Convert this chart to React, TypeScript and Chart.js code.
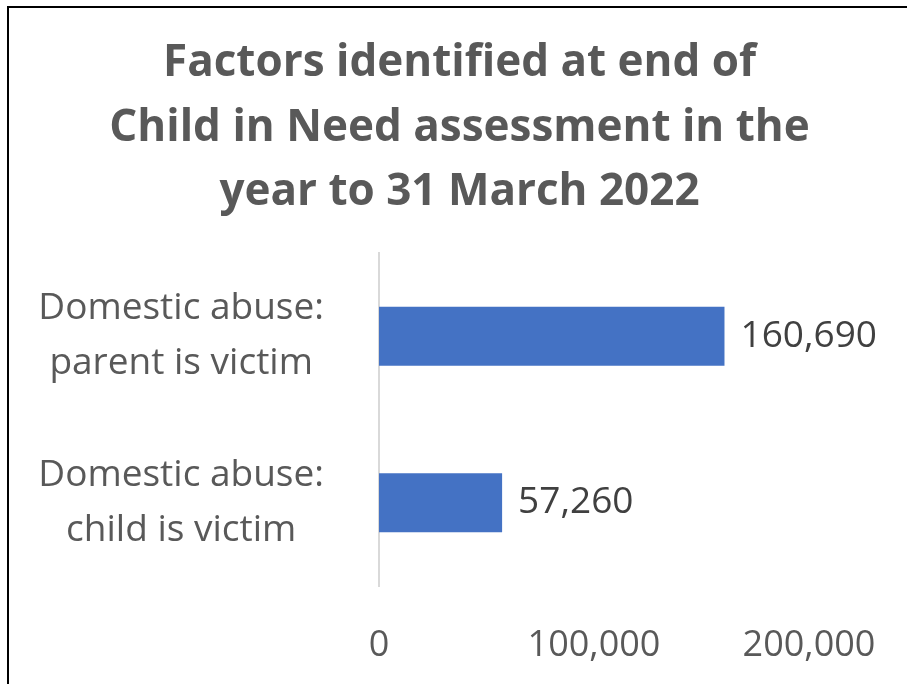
import React, { useEffect, useRef } from "react";
import { Chart, registerables } from "chart.js";

Chart.register(...registerables);

const titleLines = ["Factors identified at end of", "Child in Need assessment in the", "year to 31 March 2022"];
const categories: string[][] = [
  ["Domestic abuse:", "parent is victim"],
  ["Domestic abuse:", "child is victim"],
];
const values = [160690, 57260];
const xTicks = [0, 100000, 200000];

const FONT = "'Open Sans', sans-serif";

const valueLabels = {
  id: "valueLabels",
  afterDatasetsDraw(chart: any) {
    const ctx = chart.ctx;
    const meta = chart.getDatasetMeta(0);
    ctx.save();
    ctx.font = `37px ${FONT}`;
    ctx.fillStyle = "#404040";
    ctx.textAlign = "left";
    ctx.textBaseline = "middle";
    meta.data.forEach((bar: any, i: number) => {
      ctx.fillText(values[i].toLocaleString("en-GB"), bar.x + 16, bar.y);
    });
    ctx.restore();
  },
};

const titleCentre = {
  id: "titleCentre",
  afterLayout(chart: any) {
    const tb = chart.titleBlock;
    if (tb) {
      tb.left = 12;
      tb.right = chart.width;
      tb.width = tb.right - tb.left;
    }
  },
};

export default function App() {
  const ref = useRef<HTMLCanvasElement>(null);
  useEffect(() => {
    if (!ref.current) return;
    const chart = new Chart(ref.current, {
      type: "bar",
      data: {
        labels: categories,
        datasets: [
          {
            data: values,
            backgroundColor: "#4472C4",
            borderWidth: 0,
            barPercentage: 0.355,
            categoryPercentage: 1,
          },
        ],
      },
      options: {
        indexAxis: "y",
        animation: false,
        responsive: false,
        maintainAspectRatio: false,
        layout: { padding: { left: 0, right: 98, top: 0, bottom: 0 } },
        plugins: {
          legend: { display: false },
          tooltip: { enabled: false },
          title: {
            display: true,
            text: titleLines,
            color: "#595959",
            font: { family: FONT, size: 44, weight: "bold", lineHeight: 1.47 },
            padding: { top: 31, bottom: 28 },
          },
        },
        scales: {
          x: {
            min: 0,
            max: 200000,
            afterBuildTicks: (scale: any) => {
              scale.ticks = xTicks.map((v) => ({ value: v }));
            },
            afterFit: (scale: any) => {
              scale.height = 684 - 586;
            },
            grid: { display: false },
            border: { display: false },
            ticks: {
              color: "#595959",
              font: { family: FONT, size: 36 },
              padding: 30,
              maxRotation: 0,
              callback: (v: any) => Number(v).toLocaleString("en-GB"),
            },
          },
          y: {
            afterFit: (scale: any) => {
              scale.width = 379;
              scale.paddingTop = 0;
              scale.paddingBottom = 0;
            },
            grid: { display: false, drawTicks: false },
            border: { display: true, color: "#D9D9D9", width: 2 },
            ticks: {
              color: "#595959",
              font: { family: FONT, size: 37, lineHeight: 1.49 },
              crossAlign: "center",
              padding: 55,
            },
          },
        },
      },
      plugins: [valueLabels, titleCentre],
    });
    return () => chart.destroy();
  }, []);
  return (
    <div style={{ position: "absolute", left: 0, top: 0, width: 907, height: 684, overflow: "hidden", background: "#fff" }}>
      <canvas ref={ref} width={907} height={684} style={{ position: "absolute", left: 0, top: 0 }} />
      <div
        style={{
          position: "absolute",
          left: 7,
          top: 6,
          width: 900,
          height: 678,
          boxSizing: "border-box",
          borderTop: "2px solid #000",
          borderLeft: "2px solid #000",
          pointerEvents: "none",
        }}
      />
    </div>
  );
}
